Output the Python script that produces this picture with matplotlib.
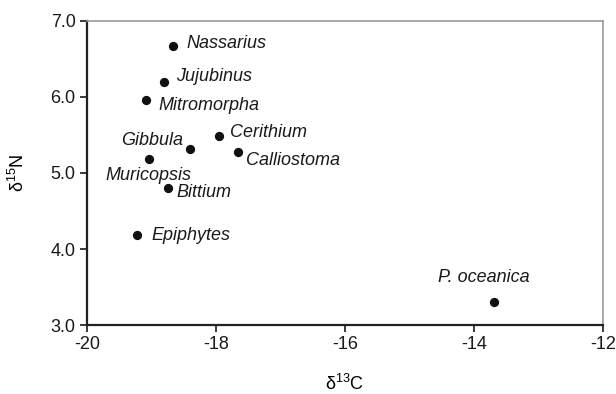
import numpy as np
import matplotlib.pyplot as plt

plt.rcParams['font.family'] = ['Liberation Sans', 'DejaVu Sans']

names = ['Nassarius', 'Jujubinus', 'Mitromorpha', 'Cerithium', 'Calliostoma',
         'Gibbula', 'Muricopsis', 'Bittium', 'Epiphytes', 'P. oceanica']
d13c = [-18.67, -18.81, -19.09, -17.95, -17.66, -18.40, -19.04, -18.74, -19.22, -13.69]
d15n = [6.67, 6.20, 5.96, 5.48, 5.27, 5.32, 5.18, 4.80, 4.18, 3.30]

# label offsets in points (dx, dy) and alignment
offsets = {
    'Nassarius': (10, 2, 'left'),
    'Jujubinus': (9, 4, 'left'),
    'Mitromorpha': (9, -4, 'left'),
    'Cerithium': (8, 3, 'left'),
    'Calliostoma': (6, -6, 'left'),
    'Gibbula': (-5, 6, 'right'),
    'Muricopsis': (0, -12, 'center'),
    'Bittium': (6, -3, 'left'),
    'Epiphytes': (10, 0, 'left'),
    'P. oceanica': (-7, 18, 'center'),
}

fig = plt.figure(figsize=(6.16, 3.94), dpi=100)
ax = fig.add_axes([0.141, 0.175, 0.838, 0.772])

ax.scatter(d13c, d15n, s=32, color='#111111', zorder=3)
for n, x, y in zip(names, d13c, d15n):
    dx, dy, ha = offsets[n]
    ax.annotate(n, (x, y), xytext=(dx, dy), textcoords='offset points',
                ha=ha, va='center', fontsize=13, style='italic', color='#1a1a1a')

ax.set_xlim(-20, -12)
ax.set_ylim(3.0, 7.0)
ax.set_xticks([-20, -18, -16, -14, -12])
ax.set_xticklabels(['-20', '-18', '-16', '-14', '-12'])
ax.set_yticks([3, 4, 5, 6, 7])
ax.set_yticklabels(['3.0', '4.0', '5.0', '6.0', '7.0'])
ax.tick_params(direction='out', length=5, width=1.2, labelsize=13, colors='#1a1a1a', pad=3)

for s in ['left', 'bottom']:
    ax.spines[s].set_color('#222222')
    ax.spines[s].set_linewidth(1.6)
for s in ['top', 'right']:
    ax.spines[s].set_color('#999999')
    ax.spines[s].set_linewidth(1.2)

ax.set_xlabel(r'$\mathregular{\delta^{13}C}$', fontsize=13, labelpad=15)
ax.set_ylabel(r'$\mathregular{\delta^{15}N}$', fontsize=13, labelpad=16)

fig.savefig('out.png', dpi=100)
